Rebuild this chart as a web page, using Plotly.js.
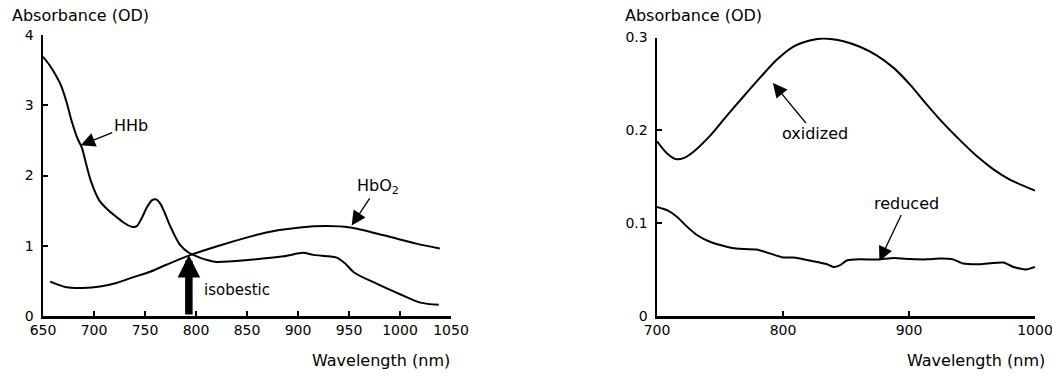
<!DOCTYPE html>
<html>
<head>
<meta charset="utf-8">
<script src="https://cdn.plot.ly/plotly-3.0.1.min.js"></script>
<style>html,body{margin:0;padding:0;background:#fff;}#chart{width:1052px;height:376px;}</style>
</head>
<body>
<div id="chart"></div>
<script>
// Left panel: haemoglobin spectra
const hhbWl = [650,656,662,668,673,678,684,688,692,697,705,713,722,730,737,742,747,752,757,761,765,769,775,784,793,799,810,820,853,886,905,915,930,938,946,955,977,1000,1020,1038];
const hhbOD = [3.69,3.58,3.44,3.27,3.05,2.78,2.52,2.40,2.18,1.92,1.65,1.52,1.41,1.32,1.27,1.28,1.40,1.55,1.65,1.66,1.60,1.48,1.27,1.02,0.90,0.86,0.80,0.77,0.80,0.85,0.90,0.87,0.85,0.83,0.75,0.62,0.46,0.31,0.19,0.16];
const hbo2Wl = [657,673,689,706,722,738,755,771,793,820,853,869,902,928,951,984,1016,1039];
const hbo2OD = [0.49,0.41,0.40,0.42,0.47,0.55,0.63,0.73,0.86,0.99,1.13,1.19,1.26,1.28,1.26,1.15,1.03,0.96];
const isobesticWl = 793;
const isobesticOD = 0.87;
const leftXTicks = [650,700,750,800,850,900,950,1000,1050];
const leftYTicks = [0,1,2,3,4];

// Right panel: cytochrome oxidase spectra
const oxWl = [700,708,715,721,729,742,755,769,782,795,808,822,832,848,861,874,888,901,914,927,940,954,967,980,1000];
const oxOD = [0.188,0.175,0.169,0.170,0.177,0.194,0.215,0.237,0.257,0.276,0.290,0.297,0.299,0.296,0.290,0.281,0.267,0.249,0.228,0.208,0.190,0.172,0.158,0.147,0.135];
const redWl = [700,708,716,724,732,742,756,763,779,790,800,808,824,835,840,845,851,861,875,888,901,914,925,935,943,956,975,983,993,1000];
const redOD = [0.1175,0.114,0.1067,0.096,0.087,0.080,0.0744,0.0726,0.0716,0.0672,0.063,0.063,0.059,0.0557,0.0528,0.0546,0.060,0.061,0.0608,0.0625,0.0614,0.061,0.062,0.061,0.0565,0.0557,0.0576,0.0528,0.050,0.0528];
const rightXTicks = [700,800,900,1000];
const rightYTicks = [0,0.1,0.2,0.3];
const rightYTickText = ['0','0.1','0.2','0.3'];

const FONT = 'DejaVu Sans, sans-serif';
const lineStyle = {color:'#000', width:2, shape:'spline', smoothing:0.8};

const traces = [
  {x:hhbWl, y:hhbOD, mode:'lines', line:lineStyle, xaxis:'x', yaxis:'y', name:'HHb'},
  {x:hbo2Wl, y:hbo2OD, mode:'lines', line:lineStyle, xaxis:'x', yaxis:'y', name:'HbO2'},
  {x:oxWl, y:oxOD, mode:'lines', line:lineStyle, xaxis:'x2', yaxis:'y2', name:'oxidized'},
  {x:redWl, y:redOD, mode:'lines', line:{color:'#000', width:2, shape:'spline', smoothing:0.5}, xaxis:'x2', yaxis:'y2', name:'reduced'}
];

const axisBase = {
  showline:true, linecolor:'#000', linewidth:2.5, ticks:'inside', ticklen:5, tickwidth:2, tickcolor:'#000',
  showgrid:false, zeroline:false, tickfont:{family:FONT, size:14, color:'#000'}, fixedrange:true,
  ticklabeloverflow:'allow'
};

const layout = {
  width:1052, height:376,
  margin:{l:0, r:0, t:0, b:0},
  paper_bgcolor:'#fff', plot_bgcolor:'rgba(0,0,0,0)',
  showlegend:false,
  font:{family:FONT, color:'#000'},
  xaxis:Object.assign({}, axisBase, {domain:[43/1052, 451/1052], range:[650,1050], tickvals:leftXTicks, anchor:'y'}),
  yaxis:Object.assign({}, axisBase, {domain:[60/376, 341/376], range:[0,4], tickvals:leftYTicks, anchor:'x', ticklabelstandoff:4}),
  xaxis2:Object.assign({}, axisBase, {domain:[657/1052, 1035/1052], range:[700,1000], tickvals:rightXTicks, anchor:'y2'}),
  yaxis2:Object.assign({}, axisBase, {domain:[60/376, 338.5/376], range:[0,0.3], tickvals:rightYTicks, ticktext:rightYTickText, anchor:'x2', ticklabelstandoff:4}),
  annotations:[
    {xref:'paper', yref:'paper', x:10/1052, y:1-16/376, xanchor:'left', yanchor:'middle', text:'Absorbance (OD)', showarrow:false, font:{family:FONT, size:16, color:'#000'}},
    {xref:'paper', yref:'paper', x:623/1052, y:1-16/376, xanchor:'left', yanchor:'middle', text:'Absorbance (OD)', showarrow:false, font:{family:FONT, size:16, color:'#000'}},
    {xref:'paper', yref:'paper', x:452/1052, y:1-360/376, xanchor:'right', yanchor:'middle', text:'Wavelength (nm)', showarrow:false, font:{family:FONT, size:16, color:'#000'}},
    {xref:'paper', yref:'paper', x:1047/1052, y:1-360/376, xanchor:'right', yanchor:'middle', text:'Wavelength (nm)', showarrow:false, font:{family:FONT, size:16, color:'#000'}},
    // HHb label
    {xref:'x', yref:'y', x:687, y:2.43, ax:50, ay:-20, text:'HHb', showarrow:true, arrowhead:2, arrowsize:2.2, arrowwidth:1.3, arrowcolor:'#000', font:{family:FONT, size:16, color:'#000'}},
    // HbO2 label
    {xref:'x', yref:'y', x:952.6, y:1.29, ax:26, ay:-39, text:'HbO<sub>2</sub>', showarrow:true, arrowhead:2, arrowsize:2.2, arrowwidth:1.3, arrowcolor:'#000', font:{family:FONT, size:16, color:'#000'}},
    // isobestic arrow
    {xref:'x', yref:'y', x:isobesticWl, y:isobesticOD, axref:'x', ayref:'y', ax:isobesticWl, ay:0, text:'', showarrow:true, arrowhead:2, arrowsize:0.6, arrowwidth:7.5, arrowcolor:'#000'},
    {xref:'x', yref:'y', x:806, y:0.37, xanchor:'left', yanchor:'middle', text:'isobestic', showarrow:false, font:{family:FONT, size:15, color:'#000'}},
    // oxidized
    {xref:'x2', yref:'y2', x:792, y:0.251, ax:42, ay:51, text:'oxidized', showarrow:true, arrowhead:2, arrowsize:2.2, arrowwidth:1.3, arrowcolor:'#000', font:{family:FONT, size:16, color:'#000'}},
    // reduced
    {xref:'x2', yref:'y2', x:876.5, y:0.0593, ax:27, ay:-57, text:'reduced', showarrow:true, arrowhead:2, arrowsize:2.2, arrowwidth:1.3, arrowcolor:'#000', font:{family:FONT, size:16, color:'#000'}}
  ]
};

Plotly.newPlot('chart', traces, layout, {displayModeBar:false, staticPlot:true});
</script>
</body>
</html>
